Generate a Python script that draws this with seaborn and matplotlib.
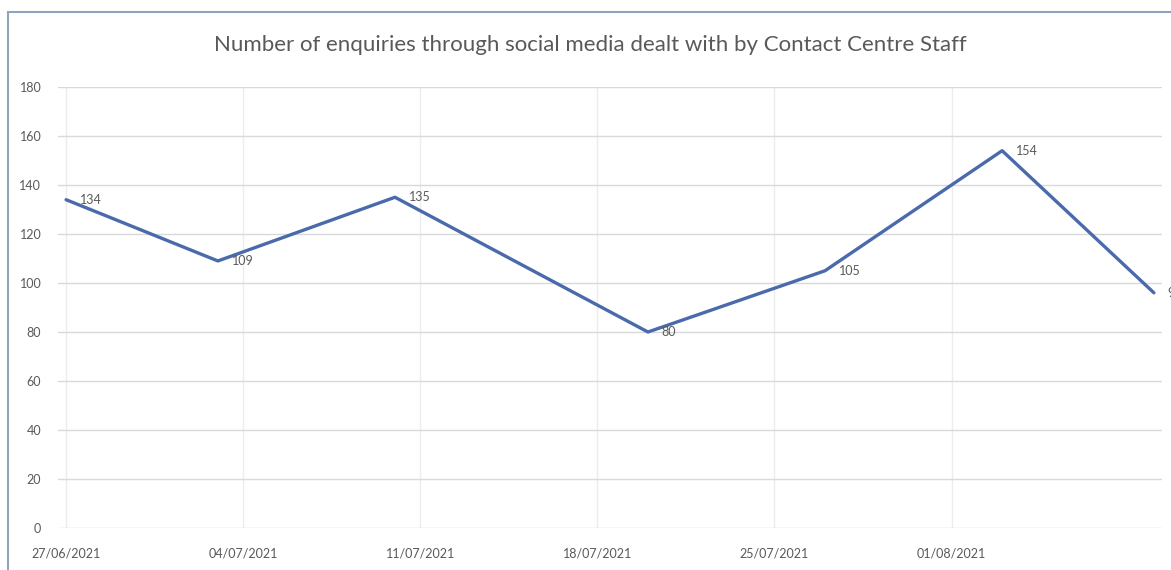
import matplotlib
matplotlib.use("Agg")
import matplotlib.pyplot as plt
import matplotlib.dates as mdates
from matplotlib.patches import Rectangle
import pandas as pd
import seaborn as sns

# Weekly social media enquiries handled by Contact Centre staff
dates = ["2021-06-27", "2021-07-03", "2021-07-10", "2021-07-20",
         "2021-07-27", "2021-08-03", "2021-08-09"]
enquiries = [134, 109, 135, 80, 105, 154, 96]
tick_dates = ["2021-06-27", "2021-07-04", "2021-07-11", "2021-07-18",
              "2021-07-25", "2021-08-01"]
y_ticks = [0, 20, 40, 60, 80, 100, 120, 140, 160, 180]
title = "Number of enquiries through social media dealt with by Contact Centre Staff"

df = pd.DataFrame({"date": pd.to_datetime(dates), "enquiries": enquiries})

sns.set_style("white")
plt.rcParams["font.family"] = ["Lato", "DejaVu Sans"]

W, H = 1171, 570
fig = plt.figure(figsize=(W / 100, H / 100), dpi=100)
fig.patch.set_facecolor("white")

# Chart border
fig.patches.append(Rectangle((8 / W, -0.05), 1.2, (H - 12) / H + 0.05,
                             transform=fig.transFigure, fill=False,
                             edgecolor="#8fa3bf", linewidth=1.5))

left_px, right_px, top_px, bottom_px = 58, 1162, 87, 528
ax = fig.add_axes([left_px / W, (H - bottom_px) / H,
                   (right_px - left_px) / W, (bottom_px - top_px) / H])

text_color = "#595959"
line_color = "#4a6aab"

sns.lineplot(data=df, x="date", y="enquiries", ax=ax, color=line_color,
             linewidth=2.4, zorder=3)

start = mdates.date2num(pd.Timestamp("2021-06-27"))
ax.set_xlim(start - 0.32, start + 43.32)
ax.set_ylim(0, 180)
ax.set_yticks(y_ticks)
ax.set_xticks(pd.to_datetime(tick_dates))
ax.xaxis.set_major_formatter(mdates.DateFormatter("%d/%m/%Y"))

ax.yaxis.grid(True, color="#d9d9d9", linewidth=1.0)
ax.xaxis.grid(True, color="#ececec", linewidth=1.0)
ax.set_axisbelow(True)
for s in ax.spines.values():
    s.set_visible(False)
ax.tick_params(axis="both", length=0, labelsize=9, colors=text_color)
ax.tick_params(axis="x", pad=14)
ax.tick_params(axis="y", pad=12)
ax.set_xlabel("")
ax.set_ylabel("")

# Data labels placed to the right of each point
for d, v in zip(df["date"], df["enquiries"]):
    ax.annotate(str(v), xy=(d, v), xytext=(10, 0), textcoords="offset points",
                ha="left", va="center", fontsize=9, color=text_color,
                annotation_clip=False)

fig.text(590 / W, (H - 45) / H, title, ha="center", va="center",
         fontsize=16, color=text_color)

fig.savefig("out.png", dpi=100, facecolor="white")
